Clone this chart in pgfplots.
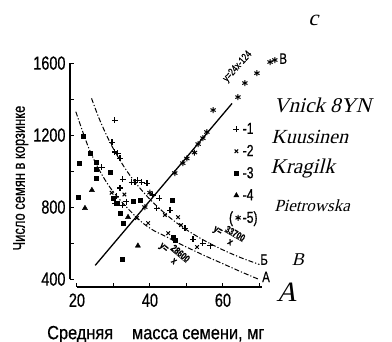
\documentclass[border=0pt]{standalone}
\usepackage{fontspec}
\setmainfont{Liberation Sans}[FakeStretch=0.76, FakeBold=0.6]
\newfontfamily\labelfont{Liberation Sans}[FakeStretch=0.86, FakeBold=0.6]
\newfontfamily\hand{Liberation Serif}[FakeSlant=0.25]
\usepackage{pgfplots}
\pgfplotsset{compat=1.18}
\pgfplotsset{parenlegend/.style={legend image code/.code={\node[anchor=east, inner sep=0pt, font=\fontsize{16}{16}\selectfont] at (0.08cm,0) {(};
    \draw[##1] plot coordinates {(0.24cm,0cm)};}}}
\begin{document}
\begin{tikzpicture}
\path[use as bounding box] (-70pt,-55pt) rectangle (322pt,287pt);
\begin{axis}[at={(0,0)}, anchor=south west, scale only axis,
  width=213.2pt, height=232.9pt,
  xmin=18.1, xmax=76.5, ymin=356, ymax=1650, clip=false,
  axis x line*=bottom, axis y line*=left, axis line style={draw=none},
  xtick={20,40,60}, minor xtick={30,50,70},
  ytick={400,800,1200,1600}, minor ytick={600,1000,1400},
  tick align=inside, major tick length=4pt, minor tick length=4pt,
  every tick/.style={black, line width=1pt},
  /pgf/number format/assume math mode=true,
  /pgf/number format/1000 sep={},
  ticklabel style={font=\fontsize{19}{19}\selectfont},
  xticklabel style={yshift=-3pt},
  yticklabel style={xshift=-1pt},
  legend style={at={(axis cs:61.6,1280)}, anchor=north west, draw=none, fill=none,
    font=\fontsize{16}{16}\selectfont, row sep=5.5pt, inner sep=0pt},
  legend cell align=left,
  legend image code/.code={\draw[#1] plot coordinates {(0.18cm,0cm)};},
]
% spines
\draw[line width=1.2pt] (axis cs:20,356) -- (axis cs:70.7,356);
\draw[line width=1.2pt] (axis cs:18.1,400) -- (axis cs:18.1,1600);

\addplot[only marks, mark=+, mark size=3pt, line width=1.1pt] coordinates {
(30.4,1283) (29.6,1161) (30.4,1106) (31.2,1100) (31.8,1072) (26.8,1022)
(32.6,955) (35.0,939) (35.9,939) (36.7,950) (37.8,939) (39.2,933)
(40.8,867) (41.9,794) (45.5,783) (49.6,683) (51.8,620) (54.5,600)
(56.5,585) (30.4,822) (32.6,811) (31.8,906) (30.8,860) (33.5,830) (42.5,850)};
\addlegendentry{-1}
\addplot[only marks, mark=x, mark size=2.5pt, line width=1pt] coordinates {
(44.1,756) (47.7,744) (52.9,578) (45.0,655) (36.4,739) (39.5,711)
(33.0,870) (29.5,880) (48.5,700)};
\addlegendentry{-2}
\addplot[only marks, mark=square*, mark size=2pt] coordinates {
(20.5,1044) (21.6,1194) (23.6,1100) (25.4,1052) (25.4,1011) (25.4,961)
(29.0,994) (20.3,856) (31.8,767) (32.6,711) (32.3,511) (37.3,839)
(46.0,839) (46.3,633) (46.8,617) (35.4,833) (29.8,850) (31.0,820)};
\addlegendentry{-3}
\addplot[only marks, mark=triangle*, mark size=3pt] coordinates {
(24.1,894) (22.2,794) (36.7,585) (34.0,744)};
\addlegendentry{-4}
\addplot[only marks, mark=asterisk, mark size=3pt, line width=1pt, parenlegend] coordinates {
(38.6,800) (40.0,880) (46.8,989) (49.0,1044) (50.1,1070) (52.2,1103)
(53.2,1150) (54.5,1183) (55.6,1217) (57.3,1339) (64.1,1411) (66.0,1489)
(69.3,1544) (72.9,1606) (74.2,1617)};
\addlegendentry{-5)}

% regression line B
\addplot[line width=1.3pt, forget plot] coordinates {(25,476) (62.5,1376)};
% curve B (Б)
\addplot[line width=1pt, smooth, forget plot, dash pattern=on 5pt off 2pt on 1.2pt off 2pt] coordinates {
(24,1404) (26,1296) (28,1204) (30,1123) (33,1021) (36,936) (40,843) (45,749)
(50,674) (55,613) (60,562) (65,518) (70,481)};
% curve A
\addplot[line width=1pt, smooth, forget plot, dash pattern=on 5pt off 2pt on 1.2pt off 2pt] coordinates {
(19.7,1330) (23,1140) (26,1010) (29,911) (32,835) (35,770) (38,712) (41,670)
(44,640) (47,608) (50,578) (55,530) (60,485) (65,440) (70,397)};

% equation labels
\node[rotate=48, font=\fontsize{10.5}{10.5}\selectfont, inner sep=0pt] at (axis cs:64.0,1580) {у=24х-124};
\node[rotate=-30, font=\bfseries\fontsize{10}{10}\selectfont, inner sep=0pt] at (axis cs:61.3,638)
  {у=\,\begin{tabular}{@{}c@{}}33700\\[-3pt]\hline\rule{0pt}{9pt}x\end{tabular}};
\node[rotate=-40, font=\bfseries\fontsize{10}{10}\selectfont, inner sep=0pt] at (axis cs:46.2,535)
  {у=\,\begin{tabular}{@{}c@{}}28600\\[-3pt]\hline\rule{0pt}{9pt}x\end{tabular}};
\node[font=\fontsize{15}{15}\selectfont, anchor=west, inner sep=0pt] at (axis cs:70.2,508) {Б};
\node[font=\fontsize{15}{15}\selectfont, anchor=west, inner sep=0pt] at (axis cs:70.7,412) {А};
\node[font=\fontsize{15}{15}\selectfont, anchor=west, inner sep=0pt] at (axis cs:75.4,1625) {В};

% axis labels
\node[rotate=90, font=\fontsize{17}{17}\selectfont] at (axis cs:4.6,961) {Число семян в корзинке};
\node[font=\labelfont\fontsize{19}{19}\selectfont] at (axis cs:41.6,92) {Средняя\quad масса семени, мг};

% handwritten notes
\node[font=\hand\fontsize{22}{22}\selectfont] at (axis cs:84.7,1839) {c};
\node[font=\hand\fontsize{21}{21}\selectfont, anchor=west, inner sep=0pt] at (axis cs:73.8,1367) {Vnick 8YN};
\node[font=\hand\fontsize{20}{20}\selectfont, anchor=west, inner sep=0pt] at (axis cs:73.2,1190) {Kuusinen};
\node[font=\hand\fontsize{21}{21}\selectfont, anchor=west, inner sep=0pt] at (axis cs:73.0,1017) {Kragilk};
\node[font=\hand\fontsize{17}{17}\selectfont, anchor=west, inner sep=0pt] at (axis cs:74.0,805) {Pietrowska};
\node[font=\hand\fontsize{18}{18}\selectfont] at (axis cs:80.5,506) {B};
\node[font=\hand\fontsize{28}{28}\selectfont] at (axis cs:77.4,325) {A};
\end{axis}
\end{tikzpicture}
\end{document}
